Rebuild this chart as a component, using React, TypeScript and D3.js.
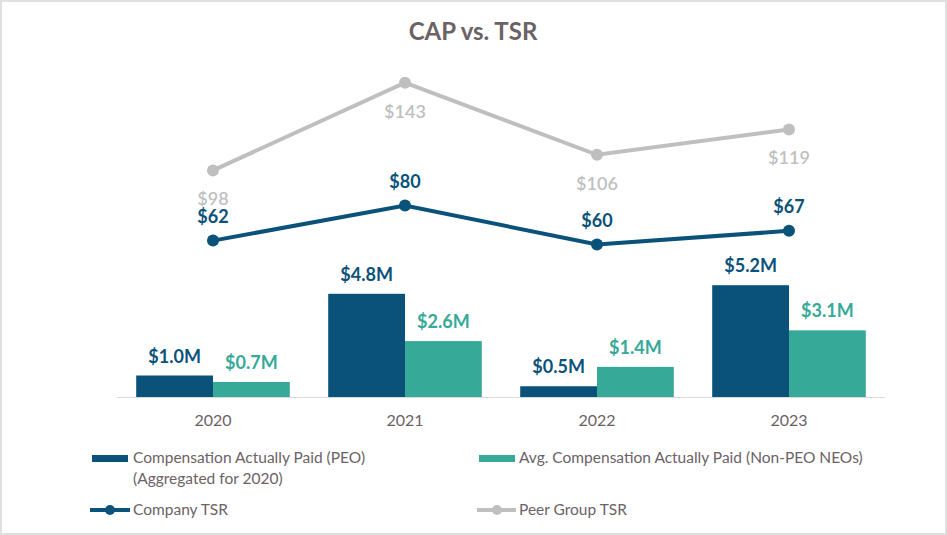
import * as d3 from 'd3'

const years = ['2020', '2021', '2022', '2023']
const capPeo = [1.0, 4.8, 0.5, 5.2] // $M
const capNeo = [0.7, 2.6, 1.4, 3.1] // $M
const companyTsr = [62, 80, 60, 67]
const peerTsr = [98, 143, 106, 119]

const WIDTH = 947
const HEIGHT = 535
const BLUE = '#0a5279'
const TEAL = '#36a998'
const LINE_GRAY = '#bfbfbf'
const TEXT = '#6b6266'
const FONT = 'Lato, "Open Sans", sans-serif'

const App = () => {
  const x = d3.scaleBand().domain(years).range([117, 885]).paddingInner(0.2).paddingOuter(0.1)
  const sub = d3.scaleBand().domain(['peo', 'neo']).range([0, x.bandwidth()])
  const yBar = d3.scaleLinear().domain([0, 14]).range([397, 96])
  const yLine = d3.scaleLinear().domain([0, 160]).range([361.5, 49.5])
  const cx = (y: string) => (x(y) as number) + x.bandwidth() / 2

  const line = d3
    .line<number>()
    .x((_, i) => cx(years[i]))
    .y((d) => yLine(d))

  const bars = [
    { key: 'peo', values: capPeo, color: BLUE },
    { key: 'neo', values: capNeo, color: TEAL },
  ]

  return (
    <svg
      width={WIDTH}
      height={HEIGHT}
      style={{ position: 'absolute', left: 0, top: 0, fontFamily: FONT }}
    >
      <rect x={1} y={1} width={WIDTH - 2} height={HEIGHT - 2} fill="#fff" stroke="#e0e0e0" strokeWidth={2} />
      <text x={473} y={40} textAnchor="middle" fontSize={24} fontWeight={700} fill={TEXT}>
        CAP vs. TSR
      </text>

      {/* bars */}
      {bars.map((s) =>
        years.map((yr, i) => {
          const bx = (x(yr) as number) + (sub(s.key) as number)
          const v = s.values[i]
          return (
            <g key={s.key + yr}>
              <rect x={bx} y={yBar(v)} width={sub.bandwidth()} height={yBar(0) - yBar(v)} fill={s.color} />
              <text
                x={bx + sub.bandwidth() / 2}
                y={yBar(v) - 13}
                textAnchor="middle"
                fontSize={18}
                fontWeight={700}
                fill={s.color}
              >
                ${v.toFixed(1)}M
              </text>
            </g>
          )
        })
      )}

      {/* axis */}
      <line x1={117} x2={885} y1={397.5} y2={397.5} stroke="#d9d9d9" strokeWidth={1} />
      {years.map((yr) => (
        <text key={yr} x={cx(yr)} y={426} textAnchor="middle" fontSize={16} fill={TEXT}>
          {yr}
        </text>
      ))}

      {/* peer TSR */}
      <path d={line(peerTsr) || ''} fill="none" stroke={LINE_GRAY} strokeWidth={4} />
      {peerTsr.map((v, i) => (
        <g key={'p' + i}>
          <circle cx={cx(years[i])} cy={yLine(v)} r={6} fill={LINE_GRAY} />
          <text x={cx(years[i])} y={yLine(v) + 35} textAnchor="middle" fontSize={18} fontWeight={600} fill={LINE_GRAY}>
            ${v}
          </text>
        </g>
      ))}

      {/* company TSR */}
      <path d={line(companyTsr) || ''} fill="none" stroke={BLUE} strokeWidth={4} />
      {companyTsr.map((v, i) => (
        <g key={'c' + i}>
          <circle cx={cx(years[i])} cy={yLine(v)} r={6} fill={BLUE} />
          <text x={cx(years[i])} y={yLine(v) - 18} textAnchor="middle" fontSize={18} fontWeight={700} fill={BLUE}>
            ${v}
          </text>
        </g>
      ))}

      {/* legend */}
      <g fontSize={15.5} fill={TEXT}>
        <rect x={92} y={455} width={36} height={7} fill={BLUE} />
        <text x={133} y={463}>Compensation Actually Paid (PEO)</text>
        <text x={133} y={484}>(Aggregated for 2020)</text>

        <rect x={479} y={455} width={36} height={7} fill={TEAL} />
        <text x={519} y={463}>Avg. Compensation Actually Paid (Non-PEO NEOs)</text>

        <line x1={90} x2={130} y1={510} y2={510} stroke={BLUE} strokeWidth={4} />
        <circle cx={110} cy={510} r={5} fill={BLUE} />
        <text x={133} y={515}>Company TSR</text>

        <line x1={477} x2={516} y1={510} y2={510} stroke={LINE_GRAY} strokeWidth={4} />
        <circle cx={497} cy={510} r={5} fill={LINE_GRAY} />
        <text x={519} y={515}>Peer Group TSR</text>
      </g>
    </svg>
  )
}

export default App
